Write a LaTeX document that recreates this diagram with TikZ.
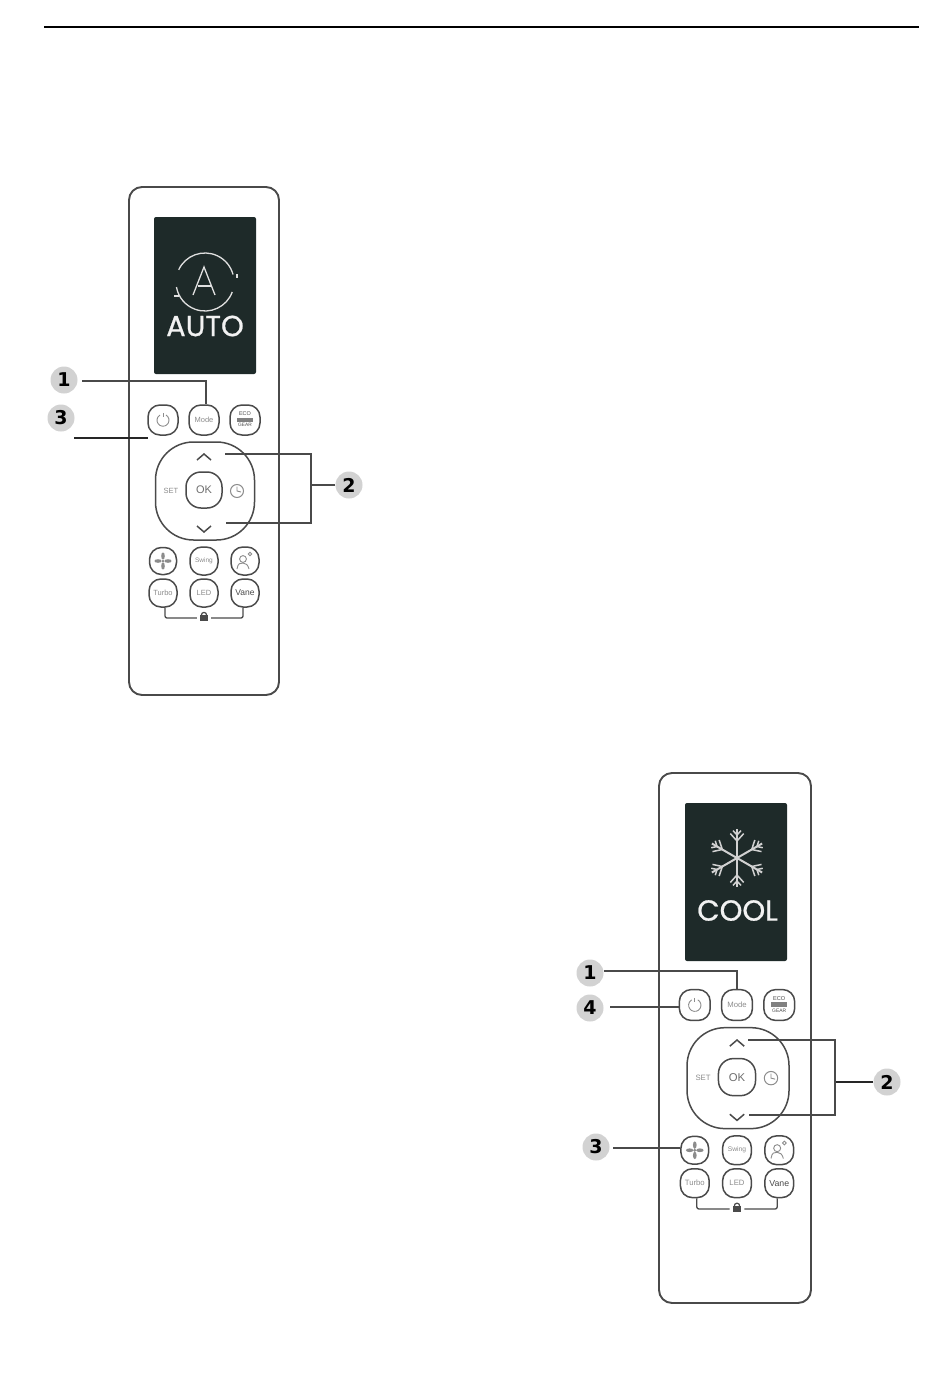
\documentclass[tikz,border=0pt]{standalone}
\usepackage{fontspec}
\setmainfont{Liberation Sans}
\newfontfamily\wordfont[FakeBold=0.7]{Poppins}
\newfontfamily\digitfont{DejaVu Sans}
\definecolor{scr}{HTML}{1E2A29}
\definecolor{edge}{HTML}{4A4A4A}
\definecolor{lbl}{HTML}{8C8C8C}
\definecolor{badgefill}{HTML}{D2D2D2}
\tikzset{
  body/.style={draw=edge,line width=1.9pt,rounded corners=13pt,fill=white},
  screen/.style={fill=scr,rounded corners=2pt},
  btn/.style={draw=edge,line width=1.5pt,rounded corners=12pt,minimum width=#1,minimum height=#1,inner sep=0pt,font=\fontsize{7.5}{8}\selectfont,text=lbl},
  btn/.default=30pt,
  dpad/.style={draw=edge,line width=1.5pt,rounded corners=38pt,minimum width=99pt,minimum height=98pt,inner sep=0pt},
  badge/.style={circle,fill=badgefill,minimum size=27pt,inner sep=0pt,font=\digitfont\fontsize{19}{20}\bfseries\selectfont,text=black},
  conn/.style={draw=edge,line width=1.3pt},
  connb/.style={draw=black!85,line width=1.9pt},
  chev/.style={draw=edge,line width=1.5pt},
  thin icon/.style={draw=lbl,line width=.9pt},
  word/.style={text=white!95!black,inner sep=0pt,font=\wordfont\fontsize{29}{30}\selectfont}
}
\newcommand{\cluster}[4]{%
\begin{scope}[shift={(#2,#3)},scale=#4,transform shape]
  \node[btn] (#1power) at (-41,0) {};
  \draw[thin icon] (-41+3,-5) arc[start angle=60,end angle=-240,x radius=6pt,y radius=6pt];
  \draw[thin icon] (-41,-7) -- (-41,-3);
  \node[btn] (#1mode) at (0,0) {Mode};
  \node[btn] (#1eco) at (41,0) {};
  \node[inner sep=0pt,font=\fontsize{5.5}{6}\selectfont,text=edge] (#1ecot) at (41,-6) {ECO};
  \fill[edge!70] (33,-2.5) rectangle (49,2);
  \node[inner sep=0pt,font=\fontsize{4.8}{5}\selectfont,text=edge] (#1ecob) at (41,5.2) {GEAR};
  \node[dpad] (#1dpad) at (1,71) {};
  \node[btn=36pt,rounded corners=15pt,font=\fontsize{11}{12}\selectfont,text=edge!80] (#1ok) at (0,70) {OK};
  \draw[chev] (-7,40) -- (0,34) -- (7,40);
  \draw[chev] (-7,106) -- (0,112) -- (7,106);
  \node[inner sep=0pt,font=\fontsize{7.5}{8}\selectfont,text=lbl] (#1set) at (-33,71) {SET};
  \node[circle,draw=lbl,line width=1pt,minimum size=13pt,inner sep=0pt] (#1clock) at (33,71) {};
  \draw[thin icon] (33,66.5) -- (33,71) -- (37,72);
  \node[btn=27pt] (#1fan) at (-41,141) {};
  \foreach \a in {0,90,180,270}{\fill[lbl,rotate around={\a:(-41,141)}] (-41,136) ellipse[x radius=1.8pt,y radius=3.6pt];}
  \fill[lbl] (-41,141) circle[radius=1.5pt];
  \node[btn=28pt,font=\fontsize{6.5}{7}\selectfont] (#1swing) at (0,141) {Swing};
  \node[btn=28pt] (#1person) at (41,141) {};
  \draw[thin icon] (39,139) circle[radius=3.4pt];
  \draw[thin icon] (33,149) .. controls (34,143) and (36,143) .. (39,143) .. controls (42,143) and (44,145) .. (45,149);
  \draw[thin icon] (46,134) circle[radius=1.8pt];
  \node[btn=28pt] (#1turbo) at (-41,173) {Turbo};
  \node[btn=28pt] (#1led) at (0,173) {LED};
  \node[btn=28pt,font=\fontsize{8.5}{9}\selectfont,text=edge] (#1vane) at (41,173) {Vane};
  \node[fill=edge,minimum width=8pt,minimum height=6pt,inner sep=0pt] (#1lock) at (0,198) {};
  \draw[edge,line width=1.2pt] (-2.6,195) arc[start angle=180,end angle=0,radius=2.6pt];
  \draw[conn,rounded corners=2pt] ([xshift=2pt]#1turbo.south) |- ([xshift=-3pt]#1lock.west);
  \draw[conn,rounded corners=2pt] ([xshift=-2pt]#1vane.south) |- ([xshift=3pt]#1lock.east);
\end{scope}}
\begin{document}
\begin{tikzpicture}[x=1pt,y=-1pt]
\useasboundingbox (0,0) rectangle (950,1399);
\fill[white] (0,0) rectangle (950,1399);
\coordinate (ruleL) at (44,27);
\coordinate (ruleR) at (919,27);
\draw[black,line width=2pt] (ruleL) -- (ruleR);

% ---------- remote 1
\draw[body] (129,187) rectangle (279,695);
\fill[screen] (154,217) rectangle (256,374);
\begin{scope}[white!88!black,line width=1.3pt]
  \draw (205,282) ++(-155:29) arc[start angle=-155,end angle=-15,radius=29];
  \draw (205,282) ++(20:29) arc[start angle=20,end angle=170,radius=29];
  \draw (174,296) -- (179,296);
  \draw[line width=2pt] (237,274) -- (237,278);
  \draw (193,295) -- (204,267) -- (215,295);
  \draw (198,286) -- (212,286);
\end{scope}
\node[word] (autot) at (205,326) {AUTO};
\cluster{a}{204}{420}{1}
\node[badge] (a1) at (64,380) {1};
\node[badge] (a3) at (61,418) {3};
\node[badge] (a2) at (349,485) {2};
\coordinate (a1s) at (82,381);
\coordinate (aup) at (225,454);
\coordinate (adn) at (226,523);
\coordinate (abr) at (311,454);
\coordinate (abr2) at (311,523);
\coordinate (abm) at (311,485);
\coordinate (a3s) at (74,438);
\coordinate (a3e) at (148,438);
\draw[conn] (a1s) -| ([xshift=2pt]amode.north);
\draw[connb] (a3s) -- (a3e);
\draw[conn] (aup) -- (abr) -- (abr2) -- (adn);
\draw[conn,line width=1.9pt] (a2.west) -- (abm);

% ---------- remote 2
\draw[body] (659,773) rectangle (811,1303);
\fill[screen] (685,803) rectangle (787,961);
\begin{scope}[shift={(737,858)},white!82!black,line width=2pt]
  \foreach \a in {90,30,-30,-90,-150,150}{
    \begin{scope}[rotate=\a]
      \draw (0,0) -- (29,0);
      \draw[line width=1.5pt] (17,0) -- ++(-42:10) (17,0) -- ++(42:10);
      \draw[line width=1.5pt] (23,0) -- ++(-42:6) (23,0) -- ++(42:6);
    \end{scope}
  }
\end{scope}
\node[word] (coolt) at (737.5,910.5) {COOL};
\cluster{b}{737}{1005}{1.03}
\node[badge] (b1) at (590,973) {1};
\node[badge] (b4) at (590,1008) {4};
\node[badge] (b3) at (596,1147) {3};
\node[badge] (b2) at (887,1082) {2};
\coordinate (b1s) at (604,971);
\coordinate (b4s) at (610,1007);
\coordinate (b3s) at (613,1148);
\coordinate (bup) at (748,1040);
\coordinate (bdn) at (749,1115);
\coordinate (bbr) at (835,1040);
\coordinate (bbr2) at (835,1115);
\coordinate (bbm) at (836,1082);
\draw[conn] (b1s) -| (bmode.north);
\draw[conn] (b4s) -- (b4s -| bpower.west);
\draw[conn] (b3s) -- (b3s -| bfan.west);
\draw[conn] (bup) -- (bbr) -- (bbr2) -- (bdn);
\draw[connb] (b2.west) -- (bbm);
\end{tikzpicture}
\end{document}
